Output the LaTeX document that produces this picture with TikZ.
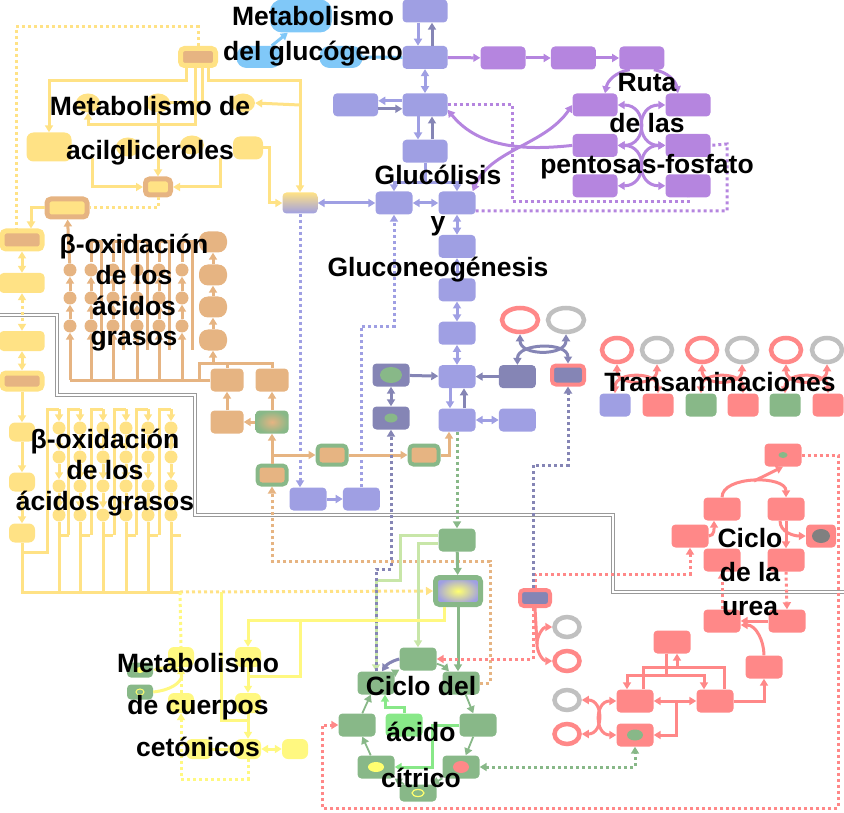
\documentclass[tikz,border=0pt]{standalone}
\usepackage{fontspec}
\setmainfont{Liberation Sans}
\usetikzlibrary{positioning, calc, arrows.meta, shapes.geometric}
\definecolor{glyc}{HTML}{9F9FE3}
\definecolor{glycdk}{HTML}{8585B5}
\definecolor{glcg}{HTML}{80C8F8}
\definecolor{pent}{HTML}{B585DF}
\definecolor{lipid}{HTML}{FFE285}
\definecolor{fatty}{HTML}{E6B482}
\definecolor{tca}{HTML}{88B888}
\definecolor{tcalt}{HTML}{C8E6A8}
\definecolor{tcabr}{HTML}{88E888}
\definecolor{urea}{HTML}{FF8888}
\definecolor{neutral}{HTML}{C0C0C0}
\definecolor{darkspot}{HTML}{808080}
\definecolor{keto}{HTML}{FFF880}
\definecolor{ketodot}{HTML}{FFFF70}
\definecolor{edgegray}{HTML}{999999}

\begin{document}
\begin{tikzpicture}[x=1pt, y=-1pt, node distance = 23pt and 20pt,
>={Triangle[length=7pt, width=8pt]},
bx/.style= {rectangle, rounded corners=4pt, inner sep=0pt, minimum width=45pt, minimum height=23pt},
gly/.style= {bx, fill=glyc},
glydk/.style= {bx, fill=glycdk, minimum width=37pt},
glc/.style= {bx, fill=glcg},
pen/.style= {bx, fill=pent},
lip/.style= {bx, fill=lipid},
lel/.style= {ellipse, fill=lipid, inner sep=0pt, minimum width=24pt, minimum height=19pt},
lipfat/.style= {bx, fill=fatty, draw=lipid, line width=5pt, minimum width=40pt, minimum height=18pt},
fatlip/.style= {bx, fill=lipid, draw=fatty, line width=5pt, minimum width=25pt, minimum height=16pt},
fat/.style= {bx, fill=fatty, minimum width=33pt},
fatgr/.style= {bx, fill=fatty, draw=tca, line width=4pt, minimum width=29pt, minimum height=19pt},
tcb/.style= {bx, fill=tca, minimum width=37pt},
ure/.style= {bx, fill=urea, minimum width=37pt},
ket/.style= {bx, rounded corners=6pt, fill=keto, minimum width=26pt, minimum height=20pt},
ring/.style= {ellipse, draw=#1, line width=4.5pt, minimum width=30pt, minimum height=24pt, inner sep=0pt},
spot/.style= {ellipse, fill=#1, minimum width=20pt, minimum height=13pt, inner sep=0pt},
fdot/.style= {circle, fill=fatty, minimum size=13pt, inner sep=0pt},
ydot/.style= {circle, fill=lipid, minimum size=13pt, inner sep=0pt},
ln/.style= {line width=3pt},
dl/.style= {line width=3pt, dash pattern=on 3pt off 3pt},
lbl/.style= {font=\bfseries\fontsize{26.5}{#1}\selectfont, align=center, inner sep=0pt} ]
\useasboundingbox (0,0) rectangle (844,813);
\draw[edgegray, double, double distance=1.5pt, line width=0.8pt] (0,315) -| (57,395) -| (195,515) -| (613,592) -- (844,592);

% glucogeno
\node (gb1) [glc, rounded corners=12pt, minimum width=62pt, minimum height=33pt] at (301,16) {};
\node (gb2) [glc, rounded corners=10pt, minimum height=22pt] at (259,57) {};
\node (gb3) [glc, rounded corners=10pt, minimum width=43pt, minimum height=22pt] at (341,57) {};

% glucolisis
\node (g1) [gly] at (425,11) {};
\node (g2) [gly, below = 23pt of g1] {};
\node (g3) [gly, below = 24pt of g2] {};
\node (g4) [gly, below = 23pt of g3] {};
\node (g0) [gly, left = 24pt of g3] {};
\node (g5) [gly, minimum width=37pt] at (394,203) {};
\node (g6) [gly, minimum width=37pt] at (457,203) {};
\node (g7) [gly, minimum width=37pt, below = 20pt of g6] {};
\node (g8) [gly, minimum width=37pt, below = 20pt of g7] {};
\node (g9) [gly, minimum width=37pt, below = 20pt of g8] {};
\node (g10) [gly, minimum width=37pt, below = 20pt of g9] {};
\node (g11) [gly, minimum width=37pt, below = 20pt of g10] {};
\node (g12) [gly, minimum width=37pt, right = 23pt of g11] {};
\node (dk1) [glydk, above = 20pt of g12] {};
\node (dk2) [glydk, draw=urea, line width=4pt, minimum width=32pt, minimum height=19pt] at (568,375) {};
\node (dk3) [glydk] at (391,375) {};
\node (dk3s) [spot=tca, minimum width=22pt, minimum height=16pt] at (dk3) {};
\node (dk4) [glydk] at (391,418) {};
\node (dk4s) [spot=tca, minimum width=13pt, minimum height=9pt] at (dk4) {};
\node (lg) [bx, top color=lipid, bottom color=glyc, minimum width=35pt, minimum height=21pt] at (300,203) {};
\node (g13) [gly, minimum width=37pt] at (308,499) {};
\node (g14) [gly, minimum width=37pt, right = 16pt of g13] {};
\node (cr1) [ring=urea, minimum width=36pt] at (520,320) {};
\node (cr2) [ring=neutral, minimum width=36pt] at (566,320) {};

% pentosas
\node (p1) [pen] at (503,58) {};
\node (p2) [pen, right = 25pt of p1] {};
\node (p3) [pen, right = 23pt of p2] {};
\node (p4) [pen] at (595,105) {};
\node (p5) [pen] at (688,105) {};
\node (p6) [pen, below = 17pt of p4] {};
\node (p7) [pen, below = 17pt of p5] {};
\node (p8) [pen, below = 17pt of p6] {};
\node (p9) [pen, below = 17pt of p7] {};

% acilgliceroles
\node (a0) [lipfat, minimum width=35pt, minimum height=17pt] at (198,57) {};
\node (e1) [lel] at (88,103) {};
\node (e2) [lel] at (158,103) {};
\node (e3) [lel] at (243,103) {};
\node (b1) [lip, rounded corners=7pt, minimum height=29pt] at (49,147) {};
\node (e4) [lel] at (128,147) {};
\node (e5) [lel] at (192,145) {};
\node (b2) [lip, rounded corners=7pt, minimum width=30pt] at (248,148) {};
\node (c1) [fatlip] at (158,187) {};
\node (f0) [fatlip, minimum width=40pt, minimum height=18pt] at (67,208) {};
\node (l1) [lipfat] at (22,240) {};
\node (l2) [lip, minimum height=20pt] at (22,283) {};
\node (l3) [lip, minimum height=20pt] at (22,341) {};
\node (l4) [lipfat, minimum height=16pt] at (22,381) {};
\node (l5) [lip, rounded corners=6pt, minimum width=26pt, minimum height=19pt] at (22,432) {};
\node (l6) [lip, rounded corners=6pt, minimum width=26pt, minimum height=19pt] at (22,482) {};
\node (l7) [lip, rounded corners=6pt, minimum width=26pt, minimum height=19pt] at (22,533) {};

% beta-oxidacion
\node (o1) [fat, rounded corners=9pt, minimum width=28pt, minimum height=21pt] at (213,242) {};
\node (o2) [fat, rounded corners=9pt, minimum width=28pt, minimum height=21pt] at (213,275) {};
\node (o3) [fat, rounded corners=9pt, minimum width=28pt, minimum height=21pt] at (213,307) {};
\node (o4) [fat, rounded corners=9pt, minimum width=28pt, minimum height=21pt] at (213,340) {};
\node (f1) [fat] at (227,380) {};
\node (f2) [fat] at (272,380) {};
\node (f3) [fat] at (227,422) {};
\node (f4) [bx, inner color=fatty, outer color=tca, minimum width=33pt] at (272,422) {};
\node (f5) [fatgr] at (272,475) {};
\node (f6) [fatgr] at (332,455) {};
\node (f7) [fatgr] at (424,455) {};

% ciclo del acido citrico
\node (t0) [tcb] at (457,540) {};
\node (tg) [bx, inner color=ketodot, outer color=glyc, draw=tca, line width=5pt, minimum width=45pt, minimum height=27pt] at (458,591) {};
\node (t1) [tcb] at (418,659) {};
\node (t2) [tcb] at (376,683) {};
\node (t3) [tcb] at (461,683) {};
\node (t4) [tcb] at (357,725) {};
\node (t5) [tcb] at (478,725) {};
\node (t6) [tcb] at (376,767) {};
\node (t6s) [spot=ketodot, minimum width=16pt, minimum height=10pt] at (t6) {};
\node (t7) [tcb] at (461,767) {};
\node (t7s) [spot=urea, minimum width=16pt, minimum height=12pt] at (t7) {};
\node (t8) [tcb, minimum height=17pt] at (418,793) {};
\node (t8s) [ellipse, draw=ketodot, line width=1.2pt, minimum width=12pt, minimum height=7pt, inner sep=0pt] at (t8) {};
\node (tl) [bx, fill=tcabr, minimum width=37pt] at (404,725) {};

% cuerpos cetonicos
\node (k1) [ket] at (181,657) {};
\node (k2) [ket] at (248,657) {};
\node (k3) [ket] at (181,703) {};
\node (k4) [ket] at (248,703) {};
\node (k5) [ket] at (199,749) {};
\node (k6) [ket] at (248,749) {};
\node (k7) [ket] at (295,749) {};
\node (gk1) [tcb, minimum width=26pt, minimum height=15pt] at (140,670) {};
\node (gk1s) [spot=ketodot, minimum width=9pt, minimum height=6pt] at (gk1) {};
\node (gk2) [tcb, minimum width=26pt, minimum height=15pt] at (140,692) {};
\node (gk2s) [ellipse, draw=ketodot, line width=1pt, minimum width=8pt, minimum height=6pt, inner sep=0pt] at (gk2) {};

% transaminaciones
\node (tr1) [ring=urea] at (617,350) {};
\node (tr2) [ring=neutral] at (657,350) {};
\node (tr3) [ring=urea] at (702,350) {};
\node (tr4) [ring=neutral] at (742,350) {};
\node (tr5) [ring=urea] at (786,350) {};
\node (tr6) [ring=neutral] at (827,350) {};
\node (tb1) [bx, fill=glyc, minimum width=31pt] at (615,405) {};
\node (tb2) [bx, fill=urea, minimum width=31pt] at (658,405) {};
\node (tb3) [bx, fill=tca, minimum width=31pt] at (701,405) {};
\node (tb4) [bx, fill=urea, minimum width=31pt] at (743,405) {};
\node (tb5) [bx, fill=tca, minimum width=31pt] at (785,405) {};
\node (tb6) [bx, fill=urea, minimum width=31pt] at (828,405) {};

% ciclo de la urea
\node (u0) [ure] at (783,455) {};
\node (u0s) [spot=tca, minimum width=9pt, minimum height=6pt] at (u0) {};
\node (u1) [ure] at (722,509) {};
\node (u2) [ure] at (786,509) {};
\node (u3) [ure] at (690,536) {};
\node (u4) [ure, minimum width=30pt] at (821,536) {};
\node (u4s) [spot=darkspot, minimum width=18pt, minimum height=14pt] at (u4) {};
\node (u5) [ure] at (722,560) {};
\node (u6) [ure] at (786,560) {};
\node (u7) [ure] at (722,621) {};
\node (u8) [ure] at (787,621) {};
\node (u9) [ure] at (672,642) {};
\node (u10) [ure] at (764,667) {};
\node (u11) [ure] at (635,701) {};
\node (u12) [ure] at (715,701) {};
\node (u13) [ure] at (635,735) {};
\node (u13s) [spot=tca, minimum width=16pt, minimum height=11pt] at (u13) {};
\node (dk5) [glydk, draw=urea, line width=4pt, minimum width=30pt, minimum height=16pt] at (535,598) {};
\node (c7) [ring=neutral, minimum width=25pt, minimum height=20pt] at (567,627) {};
\node (c8) [ring=urea, minimum width=25pt, minimum height=20pt] at (567,661) {};
\node (c9) [ring=neutral, minimum width=25pt, minimum height=20pt] at (567,700) {};
\node (c10) [ring=urea, minimum width=25pt, minimum height=20pt] at (567,734) {};

% glucogeno y glucolisis
\draw[glcg, ln, ->] ([xshift=-10pt]gb2.north east) -- ([xshift=18pt]gb1.south west);
\draw[glcg, ln] (gb3) -- (g2);
\draw[glyc, ln, ->] ([xshift=-7pt]g1.south) -- ([xshift=-7pt]g2.north);
\draw[glycdk, ln, ->] ([xshift=7pt]g2.north) -- ([xshift=7pt]g1.south);
\draw[glyc, ln, <->] (g2) -- (g3);
\draw[glyc, ln, ->] ([yshift=4pt]g3.west) -- ([yshift=4pt]g0.east);
\draw[glycdk, ln, ->] ([yshift=-4pt]g0.east) -- ([yshift=-4pt]g3.west);
\draw[glyc, ln, ->] ([xshift=-7pt]g3.south) -- ([xshift=-7pt]g4.north);
\draw[glycdk, ln, ->] ([xshift=7pt]g4.north) -- ([xshift=7pt]g3.south);
\draw[glyc, ln] (g4.south) -- ++(0,20) coordinate (gf);
\draw[glyc, ln, ->] (gf) -| (g5.north);
\draw[glyc, ln, ->] (gf) -| (g6.north);
\draw[glyc, ln, <->] (lg) -- (g5);
\draw[glyc, ln, <->] (g5) -- (g6);
\draw[glyc, ln, <->] (g6) -- (g7);
\draw[glyc, ln, <->] (g7) -- (g8);
\draw[glyc, ln, <->] (g8) -- (g9);
\draw[glyc, ln, <->] (g9) -- (g10);
\draw[glyc, ln, ->] ([xshift=-7pt]g10.south) -- ([xshift=-7pt]g11.north);
\draw[glycdk, ln, ->] ([xshift=7pt]g11.north) -- ([xshift=7pt]g10.south);
\draw[glyc, ln, <->] (g11) -- (g12);
\draw[glycdk, ln, ->] (dk3) -- (g10);
\draw[glycdk, ln, ->] (dk1) -- (g10);
\draw[glycdk, ln, <->] (dk3) -- (dk4);
\draw[glyc, ln, ->] (g13) -- (g14);
\draw[glyc, dl, ->] (lg.south) -- (lg.south |- g13.north);
\draw[glyc, dl, ->] (g14.north) -- ++(0,-161) -| (g5.south);
\draw[glycdk, ln, <->] (cr1.south) .. controls +(0,22) and +(0,22) .. (cr2.south);
\draw[glycdk, ln, <->] (dk1.north) .. controls +(0,-22) and +(0,-22) .. (dk2.north);

% pentosas-fosfato
\draw[pent, ln, ->] (g2) -- (p1);
\draw[pent, ln, ->] (p1) -- (p2);
\draw[pent, ln, ->] (p2) -- (p3);
\draw[pent, ln, ->] ([xshift=-12pt]p3.south) to[bend right=35] ([xshift=10pt]p4.north);
\draw[pent, ln, ->] ([xshift=12pt]p3.south) to[bend left=35] ([xshift=-10pt]p5.north);
\draw[pent, ln, <->] (p4.east) .. controls +(30,0) and +(30,0) .. (p6.east);
\draw[pent, ln, <->] (p5.west) .. controls +(-30,0) and +(-30,0) .. (p7.west);
\draw[pent, ln, <->] (p6.east) .. controls +(30,0) and +(30,0) .. (p8.east);
\draw[pent, ln, <->] (p7.west) .. controls +(-30,0) and +(-30,0) .. (p9.west);
\draw[pent, ln, <-] ([yshift=-5pt]g3.east) .. controls (480,150) and (530,150) .. (p6.west);
\draw[pent, ln, <->] (p4.west) .. controls (545,145) and (490,150) .. ([xshift=-3pt]g6.north east);
\draw[pent, dl] (g3.east) -| (512,202) -| (p9.south);
\draw[pent, dl] ([yshift=-8pt]g6.east) -| (727,144) -- (p7.east);

% acilgliceroles
\draw[lipid, dl] (a0.north) -- ++(0,-19) -| ([xshift=-6pt]l1.north);
\draw[lipid, ln, ->] ([xshift=-12pt]a0.south) -- ++(0,13) -| (b1.north);
\draw[lipid, ln, ->] ([xshift=10pt]a0.south) -- ++(0,13) -| (lg.north);
\draw[lipid, ln, ->] ([xshift=-3pt]a0.south) -- ++(0,57) -| (e1.south);
\draw[lipid, ln] ([xshift=4pt]a0.south) |- (e2.east);
\coordinate (lr) at (300,105);
\draw[lipid, ln, ->] (lr) -- (e3.east);
\draw[lipid, ln, ->] (e2.south) -- (c1.north);
\coordinate (a1) at (92,158);
\coordinate (a2) at (220,158);
\draw[lipid, ln, ->] (a1) |- (c1.west);
\draw[lipid, ln, ->] (a2) |- (c1.east);
\draw[lipid, ln, ->] (b2.east) -- ++(6,0) |- (lg.west);
\draw[lipid, dl] (c1.south) |- (f0.east);
\draw[lipid, ln, ->] (f0.west) -| ([xshift=9pt]l1.north);
\draw[lipid, ln, <->] (l1) -- (l2);
\draw[lipid, dl, <->] (l2) -- (l3);
\draw[lipid, ln, <->] (l3) -- (l4);
\draw[lipid, ln, ->] (l4) -- (l5);
\draw[lipid, ln, ->] (l5) -- (l6);
\draw[lipid, ln, ->] (l6) -- (l7);
\coordinate (ybase) at (180,592);
\draw[lipid, ln] (l7.south) |- (ybase);
\draw[lipid, ln] (22,552) -| (47,535);

% beta-oxidacion (mitocondria)
\foreach \x [count=\i] in {70,91,113,137,159,182} {
  \foreach \y [count=\j] in {326,298,270} \node (oc\i\j) [fdot] at (\x,\y) {};
  \draw[fatty, ln, ->] (\x,380) -- (oc\i1);
  \draw[fatty, ln, ->] (oc\i1) -- (oc\i2);
  \draw[fatty, ln, ->] (oc\i2) -- (oc\i3);
}
\foreach \x in {91,113,137,159,182}
  \draw[fatty, ln] (\x,262) -- (\x,242) -- (\x+10,242) -- (\x+10,350);
\draw[fatty, ln, ->] (oc13) -- (f0);
\draw[fatty, ln] (f1.west) -- (70,380);
\draw[fatty, ln] (f2.north) |- (199,363) -- (199,380);
\draw[fatty, ln] (f1.north) -- ++(0,-6);
\draw[fatty, ln, ->] (213,363) -- (o4.south);
\draw[fatty, ln, ->] (o4) -- (o3);
\draw[fatty, ln, ->] (o3) -- (o2);
\draw[fatty, ln, ->] (o2) -- (o1);
\draw[fatty, ln, ->] (f3) -- (f1);
\draw[fatty, ln, ->] (f4) -- (f2);
\draw[fatty, ln, ->] (f4) -- (f3);
\draw[fatty, ln, ->] (f5) -- (f4);
\draw[fatty, ln, ->] (f5.north |- f6.west) -- (f6.west);
\draw[fatty, ln, ->] (f6) -- (f7);
\draw[fatty, ln, ->] (f7.east) -| ([xshift=-8pt]g11.south);
\draw[fatty, dl, ->] (t3.east) -| (490,561) -| (f5.south);

% beta-oxidacion (peroxisoma)
\foreach \x [count=\i] in {59,80,103,126,148,171} {
  \foreach \y [count=\j] in {428,457,486,515} \node (yc\i\j) [ydot] at (\x,\y) {};
  \draw[lipid, ln] (\x-12,535) -- (\x-12,409) -- (\x,409);
  \draw[lipid, ln, ->] (\x,409) -- (yc\i1);
  \draw[lipid, ln, ->] (yc\i1) -- (yc\i2);
  \draw[lipid, ln, ->] (yc\i2) -- (yc\i3);
  \draw[lipid, ln, ->] (yc\i3) -- (yc\i4);
  \draw[lipid, ln] (yc\i4) -- (\x,592);
  \draw[lipid, ln] (\x,535) -- (\x+10,535);
}

% acido citrico
\draw[tca, dl, ->] (g11.south) -- (t0.north);
\draw[tca, ln, ->] (t0) -- (tg);
\draw[tca, ln, ->] (tg.south) -- (tg.south |- t3.north);
\draw[tcalt, ln, ->] ([yshift=5pt]t0.west) -| (400,580) -| (t2.north);
\draw[tcalt, ln, ->] ([yshift=-3pt]t0.west) -| (t1.north);
\draw[tca, line width=1.8pt, ->] (t1) to[bend left=15] (t3);
\draw[tca, line width=1.8pt, ->] (t3) -- (t5);
\draw[tca, line width=1.8pt, ->] (t5) -- (t7);
\draw[tca, line width=1.8pt, ->] (t7) -- (t8);
\draw[tca, line width=1.8pt, ->] (t8) -- (t6);
\draw[tca, line width=1.8pt, ->] (t6) -- (t4);
\draw[tca, line width=1.8pt, ->] (t4) -- (t2);
\draw[tca, line width=1.8pt, ->] (t2) -- (t1);
\draw[glycdk, ln, ->] (t1.west) to[bend right=20] ([xshift=6pt]t2.north);
\draw[tcabr, ln, ->] (t5.west) -- ++(-27,0) |- (t6.east);
\draw[tcabr, ln, ->] (tl.north) -- ++(0,-6) -| ([xshift=9pt]t2.south);
\draw[glycdk, dl, ->] (t2.north) -- ++(0,-102) -| (dk4.south);
\draw[tca, dl, <->] (t7.east) -| (u13.south);

% cuerpos cetonicos
\draw[lipid, dl, ->] (ybase) -- (tg.west);
\draw[keto, dl] (ybase) -- (k1.north);
\draw[keto, ln, ->] ([xshift=-14pt]tg.south) -- ++(0,13) -| (k2.north);
\coordinate (kj) at (300,620);
\draw[keto, ln] (kj) |- ([yshift=-9pt]k2.south);
\coordinate (kb) at (221,592);
\draw[keto, ln] (kb) |- ([yshift=-7pt]k4.south);
\draw[keto, ln, ->] (k2) -- (k4);
\draw[keto, ln, ->] (k4) -- (k6);
\draw[keto, ln, <->] (k6) -- (k7);
\draw[keto, ln, ->] (k5) -- (k6);
\draw[keto, dl, ->] (k6.south) -- ++(0,20) -| (k3.south);
\draw[keto, dl, ->] (k3) -- (k1);
\draw[keto, ln, ->] (gk2.east) .. controls (190,688) and (190,662) .. (gk1.east);

% transaminaciones
\draw[urea, ln, <->] (tr1.south) .. controls +(0,22) and +(0,22) .. (tr2.south);
\draw[urea, ln, <->] (tb1.north) .. controls +(0,-22) and +(0,-22) .. (tb2.north);
\draw[urea, ln, <->] (tr3.south) .. controls +(0,22) and +(0,22) .. (tr4.south);
\draw[urea, ln, <->] (tb3.north) .. controls +(0,-22) and +(0,-22) .. (tb4.north);
\draw[urea, ln, <->] (tr5.south) .. controls +(0,22) and +(0,22) .. (tr6.south);
\draw[urea, ln, <->] (tb5.north) .. controls +(0,-22) and +(0,-22) .. (tb6.north);

% ciclo de la urea
\draw[urea, ln, ->] (u1.north) .. controls +(0,-22) and +(0,-22) .. (u2.north);
\coordinate (ua) at (754,481);
\draw[urea, ln, ->] (ua) -- (u0.south);
\draw[urea, ln, ->] (u2) -- (u6);
\draw[urea, ln, ->] ([xshift=-6pt]u2.south) to[out=-90, in=180] (u4.west);
\draw[urea, ln, ->] (u3.east) to[out=0, in=-90] ([xshift=-8pt]u1.south);
\draw[urea, dl, ->] (u7.north) -- (u5.south);
\draw[urea, dl, ->] (u6.south) -- (u8.north);
\draw[urea, ln, ->] (u8) -- (u7);
\draw[urea, ln, ->] (u10.north) to[out=90, in=0] ([yshift=-4pt]u7.east);
\draw[urea, ln, ->] (u12.east) -| (u10.south);
\draw[urea, ln, <->] (u11) -- (u12);
\coordinate (um) at (676,701);
\draw[urea, ln, ->] (um) |- (u13.east);
\draw[urea, ln] ([xshift=8pt]u11.north) -- ++(0,-22) -| ([xshift=9pt]u12.north);
\coordinate (ub) at (677,667);
\draw[urea, ln, ->] (ub) -- ([xshift=5pt]u9.south);
\draw[urea, ln, ->] ([xshift=-6pt]u9.south) -- ++(0,22) -| ([xshift=-8pt]u11.north);
\draw[urea, ln, ->] ([xshift=-6pt]u9.south) -- ++(0,22) -| ([xshift=-11pt]u12.north);
\draw[urea, ln, <->] (c9.east) .. controls +(22,0) and +(22,0) .. (c10.east);
\draw[urea, ln, <->] (u11.west) .. controls +(-22,0) and +(-22,0) .. (u13.west);
\coordinate (rj) at (537,644);
\draw[urea, ln] (dk5.south) -- (rj);
\draw[urea, ln, ->] (rj) to[out=-90, in=180] (c8.west);
\draw[urea, ln, ->] (rj) to[out=90, in=180] (c7.west);
\draw[urea, dl, ->] (u0.east) -- (838,455) -- (838,808) -- (322,808) |- (t4.west);
\draw[urea, dl, ->] (dk5.north) -- ++(0,-14) -| (u3.south);
\draw[glycdk, dl, ->] ([xshift=-2pt]dk5.north) -- ++(0,-123) -| (dk2.south);
\draw[urea, dl, ->] ([xshift=-2pt]dk5.south) |- (t1.east);

% rotulos
\node (lglc) [lbl=35] at (313,36) {Metabolismo\\del glucógeno};
\node (lacil) [lbl=44] at (150,131) {Metabolismo de\\acilgliceroles};
\node (lgluc) [lbl=46] at (438,224) {Glucólisis\\y\\Gluconeogénesis};
\node (lpent) [lbl=41] at (647,126) {Ruta\\de las\\pentosas-fosfato};
\node (lbox1) [lbl=30.7] at (134,293) {β-oxidación\\de los\\ácidos\\grasos};
\node (ltrans) [lbl=30] at (720,382) {Transaminaciones};
\node (lbox2) [lbl=31] at (105,473) {β-oxidación\\de los\\ácidos grasos};
\node (lurea) [lbl=34] at (750,572) {Ciclo\\de la\\urea};
\node (lcet) [lbl=42] at (198,705) {Metabolismo\\de cuerpos\\cetónicos};
\node (lcit) [lbl=46] at (421,732) {Ciclo del\\ácido\\cítrico};
\end{tikzpicture}
\end{document}
